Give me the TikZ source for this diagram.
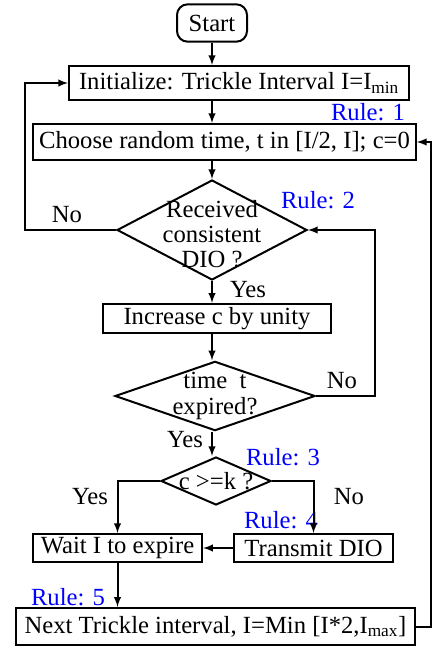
\documentclass[tikz,border=0pt]{standalone}
\usepackage{fontspec}
\setmainfont{Liberation Serif}
\usetikzlibrary{shapes.geometric,arrows}

\begin{document}
\begin{tikzpicture}[%
>=latex,
x=0.75pt, y=-0.75pt,
font=\fontsize{18.5}{19}\selectfont,
line width=1.5pt,
term/.style={draw, rounded corners=8pt, minimum width=52.5pt, minimum height=28pt, inner sep=1pt},
box/.style={draw, rectangle, inner sep=1pt},
decision/.style={draw, diamond, inner sep=0pt},
rule/.style={text=blue, inner sep=0pt}
]
\useasboundingbox (0,0) rectangle (433,650);

\node[term] (start) at (212,23) {Start};
\node[box, minimum width=255pt, minimum height=25.5pt] (init) at (239,83) {Initialize: Trickle Interval I=I\textsubscript{min}};
\node[box, minimum width=287pt, minimum height=27pt] (choose) at (224.5,142) {Choose random time, t in [I/2, I]; c=0};
\node[decision, minimum width=142.5pt, minimum height=75pt,
  label={[align=center, yshift=-3pt]center:Received\\consistent\\DIO ?}] (recv) at (212,230) {};
\node[box, minimum width=171pt, minimum height=22pt] (inc) at (217,318.5) {Increase c by unity};
\node[decision, minimum width=150pt, minimum height=52pt,
  label={[align=center]center:time\ \ t\\expired?}] (exp) at (215,396) {};
\node[decision, minimum width=82.5pt, minimum height=36pt,
  label={[inner sep=0pt]center:c >=k ?}] (cmp) at (216,481) {};
\node[box, minimum width=127pt, minimum height=21pt] (wait) at (117.5,548) {Wait I to expire};
\node[box, minimum width=119pt, minimum height=21pt] (tx) at (313.5,548) {Transmit DIO};
\node[box, minimum width=299pt, minimum height=28pt] (next) at (215.5,626.5) {Next Trickle interval, I=Min [I*2,I\textsubscript{max}]};

\node[rule] at (368,112) {Rule: 1};
\node[rule] at (318,200) {Rule: 2};
\node[rule] at (283,457) {Rule: 3};
\node[rule] at (281,520) {Rule: 4};
\node[rule] at (68,597) {Rule: 5};

\node at (67,215) {No};
\node at (248,290) {Yes};
\node at (342,381) {No};
\node at (185,440) {Yes};
\node at (90,497) {Yes};
\node at (349,497) {No};

\draw[->] (start.south) -- (start.south |- init.north);
\draw[->] (init.south -| start) -- (choose.north -| start);
\draw[->] (choose.south -| recv) -- (recv.north);
\draw[->] (recv.south) -- (recv.south |- inc.north);
\draw[->] (inc.south -| recv) -- (exp.north -| recv);
\draw[->] (exp.south -| recv) -- (cmp.north -| recv);
\draw[->] (recv.west) -- (25,230) |- (init.west);
\draw[->] (exp.east) -- (375,396) |- (recv.east);
\draw[->] (cmp.west) -| (wait.north);
\draw[->] (cmp.east) -| (tx.north);
\draw[->] (tx.west) -- (wait.east);
\draw[->] (wait.south) -- (wait.south |- next.north);
\draw[->] (next.east) -- (431,626.5) |- (choose.east);

\end{tikzpicture}
\end{document}
